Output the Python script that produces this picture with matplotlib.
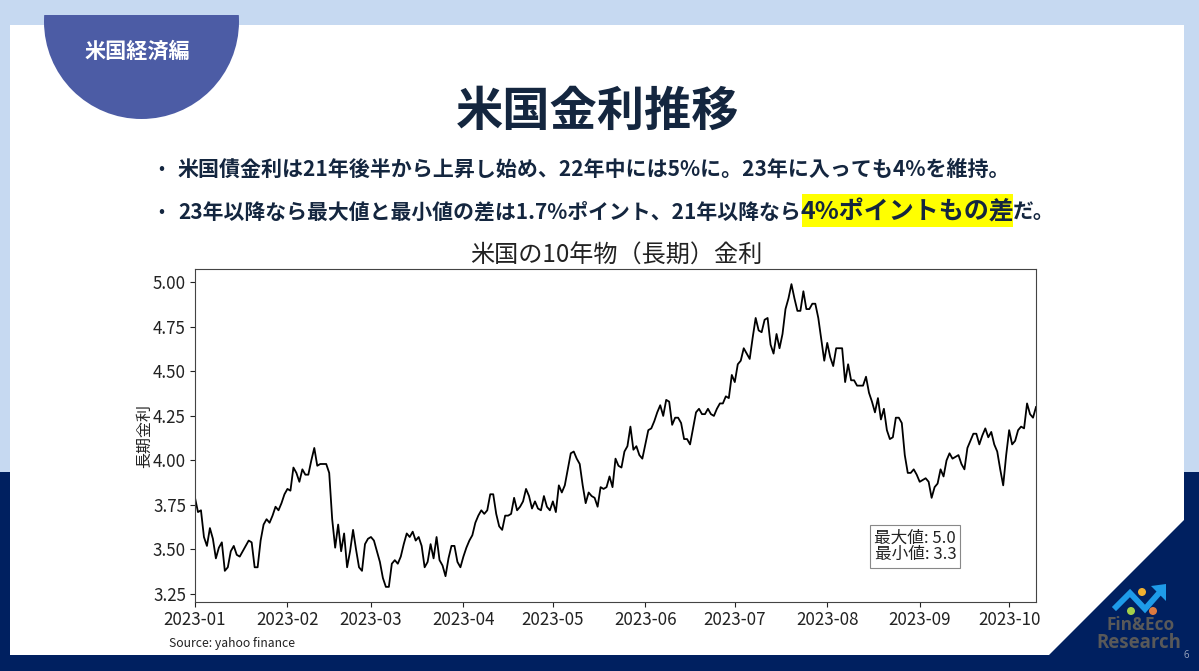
import matplotlib
matplotlib.use("Agg")
import matplotlib.pyplot as plt
import matplotlib.dates as mdates
from matplotlib.patches import Polygon, Rectangle, Circle
from matplotlib.ticker import MultipleLocator
import pandas as pd

plt.rcParams['font.family'] = ['Noto Sans CJK JP', 'DejaVu Sans']

START_DATE = '2023-01-01'
yields_a = [3.79,3.71,3.72,3.57,3.52,3.62,3.56,3.45,3.51,3.54,3.38,3.40,3.49,3.52,3.47,3.46,3.49,3.52,3.55,3.54,
            3.40,3.40,3.55,3.64,3.67,3.65,3.69,3.74,3.72,3.76,3.81,3.84,3.83,3.96,3.93,3.88,3.95,3.92,3.92,4.00,
            4.07,3.97,3.98,3.98,3.98,3.93,3.67,3.51,3.64,3.49,3.59,3.40,3.49,3.61,3.50,3.40,3.38,3.53,3.56,3.57,
            3.55,3.49,3.43,3.34,3.29,3.29,3.42,3.44,3.42,3.46,3.53,3.59,3.57,3.60,3.55,3.57,3.52,3.40,3.43,3.53,
            3.45,3.57,3.44,3.41,3.35,3.45,3.52,3.52,3.43,3.40,3.46,3.51]
yields_b = [3.55,3.58,3.65,3.69,3.72,3.70,3.72,3.81,3.81,3.70,3.63,3.61,3.69,3.69,3.70,3.79,3.72,3.74,3.77,3.84,
            3.80,3.73,3.77,3.73,3.72,3.80,3.74,3.72,3.77,3.71,3.86,3.82,3.86,3.95,4.04,4.05,4.01,3.98,3.86,3.76,
            3.82,3.80,3.79,3.74,3.85,3.84,3.85,3.91,3.85,4.01,3.97,3.96,4.05,4.08,4.19,4.06,4.08,4.03,4.01,4.09,
            4.17,4.18,4.22,4.27,4.31,4.25,4.34,4.33,4.20,4.24,4.24,4.21,4.12,4.12,4.09,4.18,4.27,4.29,4.26,4.26,
            4.29,4.26,4.25,4.29,4.32,4.32,4.36,4.35,4.48,4.44,4.54,4.56,4.63,4.60]
yields_c = [4.57,4.69,4.80,4.73,4.72,4.79,4.80,4.65,4.60,4.71,4.63,4.71,4.85,4.91,4.99,4.91,4.84,4.84,4.95,4.85,
            4.85,4.88,4.88,4.80,4.68,4.56,4.66,4.58,4.53,4.63,4.63,4.63,4.44,4.54,4.45,4.45,4.42,4.42,4.42,4.47,
            4.38,4.33,4.27,4.35,4.23,4.29,4.17,4.12,4.13,4.24,4.24,4.21,4.03,3.93,3.93,3.95,3.92,3.88,3.89,3.90,
            3.88,3.79,3.85,3.87,3.95,3.91,4.00,4.04,4.01,4.02,4.03,3.98,3.95,4.07,4.11,4.15,4.15,4.09,4.14,4.18,
            4.13,4.16,4.09,4.05,3.95,3.86,4.03,4.17,4.09,4.11,4.17,4.19,4.18,4.32,4.26,4.24,4.30]
values = yields_a + yields_b + yields_c
dates = pd.date_range(START_DATE, periods=len(values), freq='D')

W, H = 1199, 671
NAVY = '#002060'
INK = '#14263F'
fig = plt.figure(figsize=(W / 100, H / 100), dpi=100, facecolor='#C6D9F1')

bg = fig.add_axes([0, 0, 1, 1], zorder=0)
bg.set_xlim(0, W); bg.set_ylim(H, 0); bg.axis('off')
bg.add_patch(Rectangle((0, 472), W, H - 472, fc=NAVY, ec='none'))
bg.add_patch(Polygon([(10, 25), (1184, 25), (1184, 520), (1049, 655), (10, 655)], fc='white', ec='none'))
clip = Rectangle((0, 15), W, H, transform=bg.transData)
disc = Circle((141.5, 21.5), 97.5, fc='#4C5CA5', ec='none')
bg.add_patch(disc); disc.set_clip_path(clip)
bg.text(137.5, 51, '米国経済編', color='white', fontsize=15.2, fontweight='bold', ha='center', va='center')
bg.text(597.5, 112, '米国金利推移', color=INK, fontsize=34, fontweight='bold', ha='center', va='center')

bg.text(158, 169, '•', color=INK, fontsize=13, ha='left', va='center')
bg.text(178, 169, '米国債金利は21年後半から上昇し始め、22年中には5%に。23年に入っても4%を維持。',
        color=INK, fontsize=15.1, fontweight='bold', ha='left', va='center')
bg.text(158, 212, '•', color=INK, fontsize=13, ha='left', va='center')
bg.text(178, 212, '23年以降なら最大値と最小値の差は1.7%ポイント、21年以降なら',
        color=INK, fontsize=15.0, fontweight='bold', ha='left', va='center')
bg.add_patch(Rectangle((802, 194), 211, 33, fc='#FFFF00', ec='none'))
bg.text(907.5, 212, '4%ポイントもの差', color=INK, fontsize=18, fontweight='bold', ha='center', va='center')
bg.text(1013, 212, 'だ。', color=INK, fontsize=15, fontweight='bold', ha='left', va='center')

bg.text(616, 256, '米国の10年物（長期）金利', color='#222222', fontsize=17.4, ha='center', va='center')
bg.text(169, 643, 'Source: yahoo finance', color='#222222', fontsize=8.8, ha='left', va='center')

# logo
bg.plot([1116, 1130, 1145, 1160], [607, 593, 609, 592], color='#1E9BE8', lw=4.2, solid_joinstyle='miter')
bg.add_patch(Polygon([(1151, 586), (1166, 584), (1166, 601)], fc='#1E9BE8', ec='none'))
bg.add_patch(Circle((1142, 592), 4, fc='#F0B030', ec='none'))
bg.add_patch(Circle((1131, 611), 4, fc='#A4D04A', ec='none'))
bg.add_patch(Circle((1153, 611), 4, fc='#DE7A3F', ec='none'))
bg.text(1141, 625, 'Fin&Eco', color='#595959', fontsize=12.4, fontweight='bold', family='Open Sans', ha='center', va='center')
bg.text(1139, 643, 'Research', color='#595959', fontsize=13.4, fontweight='bold', family='Open Sans', ha='center', va='center')
bg.text(1186, 656, '6', color='#9AA5BD', fontsize=7, family='Open Sans', ha='center', va='center')

L, R, T, B = 195, 1036, 269, 602
ax = fig.add_axes([L / W, 1 - B / H, (R - L) / W, (B - T) / H], zorder=1)
ax.plot(dates, values, color='black', lw=1.3)
ax.set_xlim(dates[0], dates[-1])
ax.set_ylim(3.205, 5.075)
ax.yaxis.set_major_locator(MultipleLocator(0.25))
ax.yaxis.set_major_formatter('{x:.2f}')
ax.xaxis.set_major_locator(mdates.MonthLocator())
ax.xaxis.set_major_formatter(mdates.DateFormatter('%Y-%m'))
ax.tick_params(labelsize=12.2, colors='#222222', width=0.8, length=3.5, pad=3)
for s in ax.spines.values():
    s.set_color('#444444'); s.set_linewidth(0.8)
ax.set_ylabel('長期金利', fontsize=11.5, color='#222222', labelpad=0)
ax.text(0.8565, 0.167, f'最大値: {max(values):.1f}\n最小値: {min(values):.1f}', transform=ax.transAxes,
        fontsize=12, color='#222222', ha='center', va='center', linespacing=1.0,
        bbox=dict(boxstyle='square,pad=0.25', fc='white', ec='#888888', lw=0.8))

fig.savefig('out.png', dpi=100, facecolor=fig.get_facecolor())
